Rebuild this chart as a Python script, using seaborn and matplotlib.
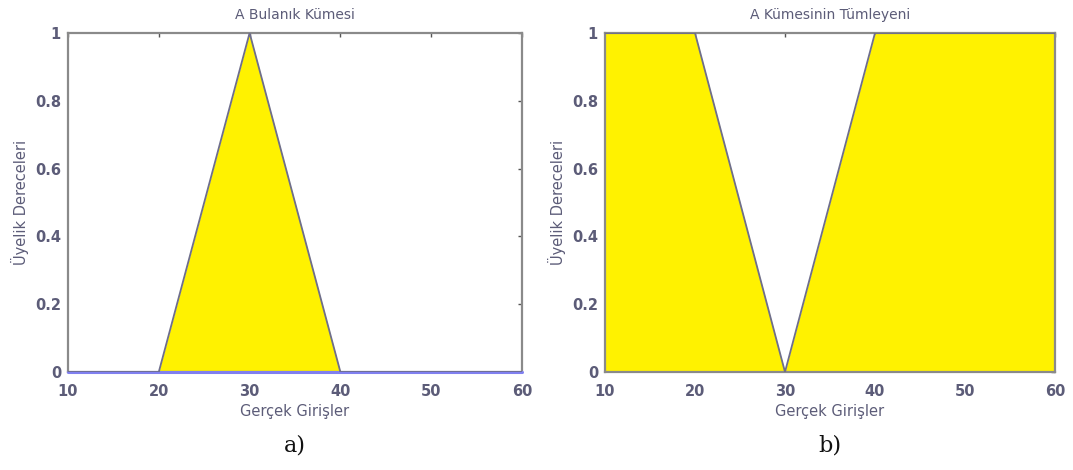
import matplotlib
matplotlib.use("Agg")
import matplotlib.pyplot as plt
import seaborn as sns
import pandas as pd

sns.set_theme(style="white")
plt.rcParams['font.family'] = ['DejaVu Sans']

# Data
x_vals = [10, 20, 30, 40, 50, 60]
membership_a = [0, 0, 1, 0, 0, 0]
complement_a = [1, 1, 0, 1, 1, 1]
x_ticks = [10, 20, 30, 40, 50, 60]
y_ticks = [0, 0.2, 0.4, 0.6, 0.8, 1]
y_tick_labels = ["0", "0.2", "0.4", "0.6", "0.8", "1"]
titles = ["A Bulanık Kümesi", "A Kümesinin Tümleyeni"]
xlabel = "Gerçek Girişler"
ylabels = ["Üyelik Dereceleri", "Üyelik Dereceleri"]
panel_labels = ["a)", "b)"]

YELLOW = "#fff200"
EDGE = "#6e6e8c"
TEXT = "#5c5c78"
SPINE = "#8a8a8a"

fig = plt.figure(figsize=(10.73, 4.70), dpi=100)
ax1 = fig.add_axes([68/1073, 98/470, 454/1073, 339/470])
ax2 = fig.add_axes([605/1073, 98/470, 450/1073, 339/470])

df1 = pd.DataFrame({"x": x_vals, "y": membership_a})
df2 = pd.DataFrame({"x": x_vals, "y": complement_a})

for ax, df, title, ylab, plab in [(ax1, df1, titles[0], ylabels[0], panel_labels[0]),
                                  (ax2, df2, titles[1], ylabels[1], panel_labels[1])]:
    ax.fill_between(df["x"], df["y"], 0, color=YELLOW, linewidth=0, zorder=1)
    if ax is ax1:
        ax.axhline(0, color="#8080f0", linewidth=2.2, zorder=5, clip_on=False)
    sns.lineplot(data=df, x="x", y="y", ax=ax, color=EDGE, linewidth=1.3, zorder=6)
    ax.set_xlim(10, 60)
    ax.set_ylim(0, 1)
    ax.set_xticks(x_ticks)
    ax.set_yticks(y_ticks)
    ax.set_yticklabels(y_tick_labels)
    ax.tick_params(direction="in", length=3, width=1, color="#555555",
                   top=True, right=True, labelsize=10.5, labelcolor=TEXT)
    ax.tick_params(axis="x", pad=9)
    ax.tick_params(axis="y", pad=5)
    for lab in ax.get_xticklabels() + ax.get_yticklabels():
        lab.set_fontweight("bold")
    for sp in ax.spines.values():
        sp.set_color(SPINE)
        sp.set_linewidth(1.6)
        sp.set_visible(True)
    ax.set_title(title, fontsize=10, color=TEXT, pad=10)
    ax.set_xlabel(xlabel, fontsize=10.5, color=TEXT, labelpad=3)
    ax.set_ylabel(ylab, fontsize=10.5, color=TEXT, labelpad=4)
    ax.text(0.5, -0.185, plab, transform=ax.transAxes, ha="center", va="top",
            fontsize=16, family="DejaVu Serif", color="#111111")

fig.savefig("out.png", dpi=100, facecolor="white")
